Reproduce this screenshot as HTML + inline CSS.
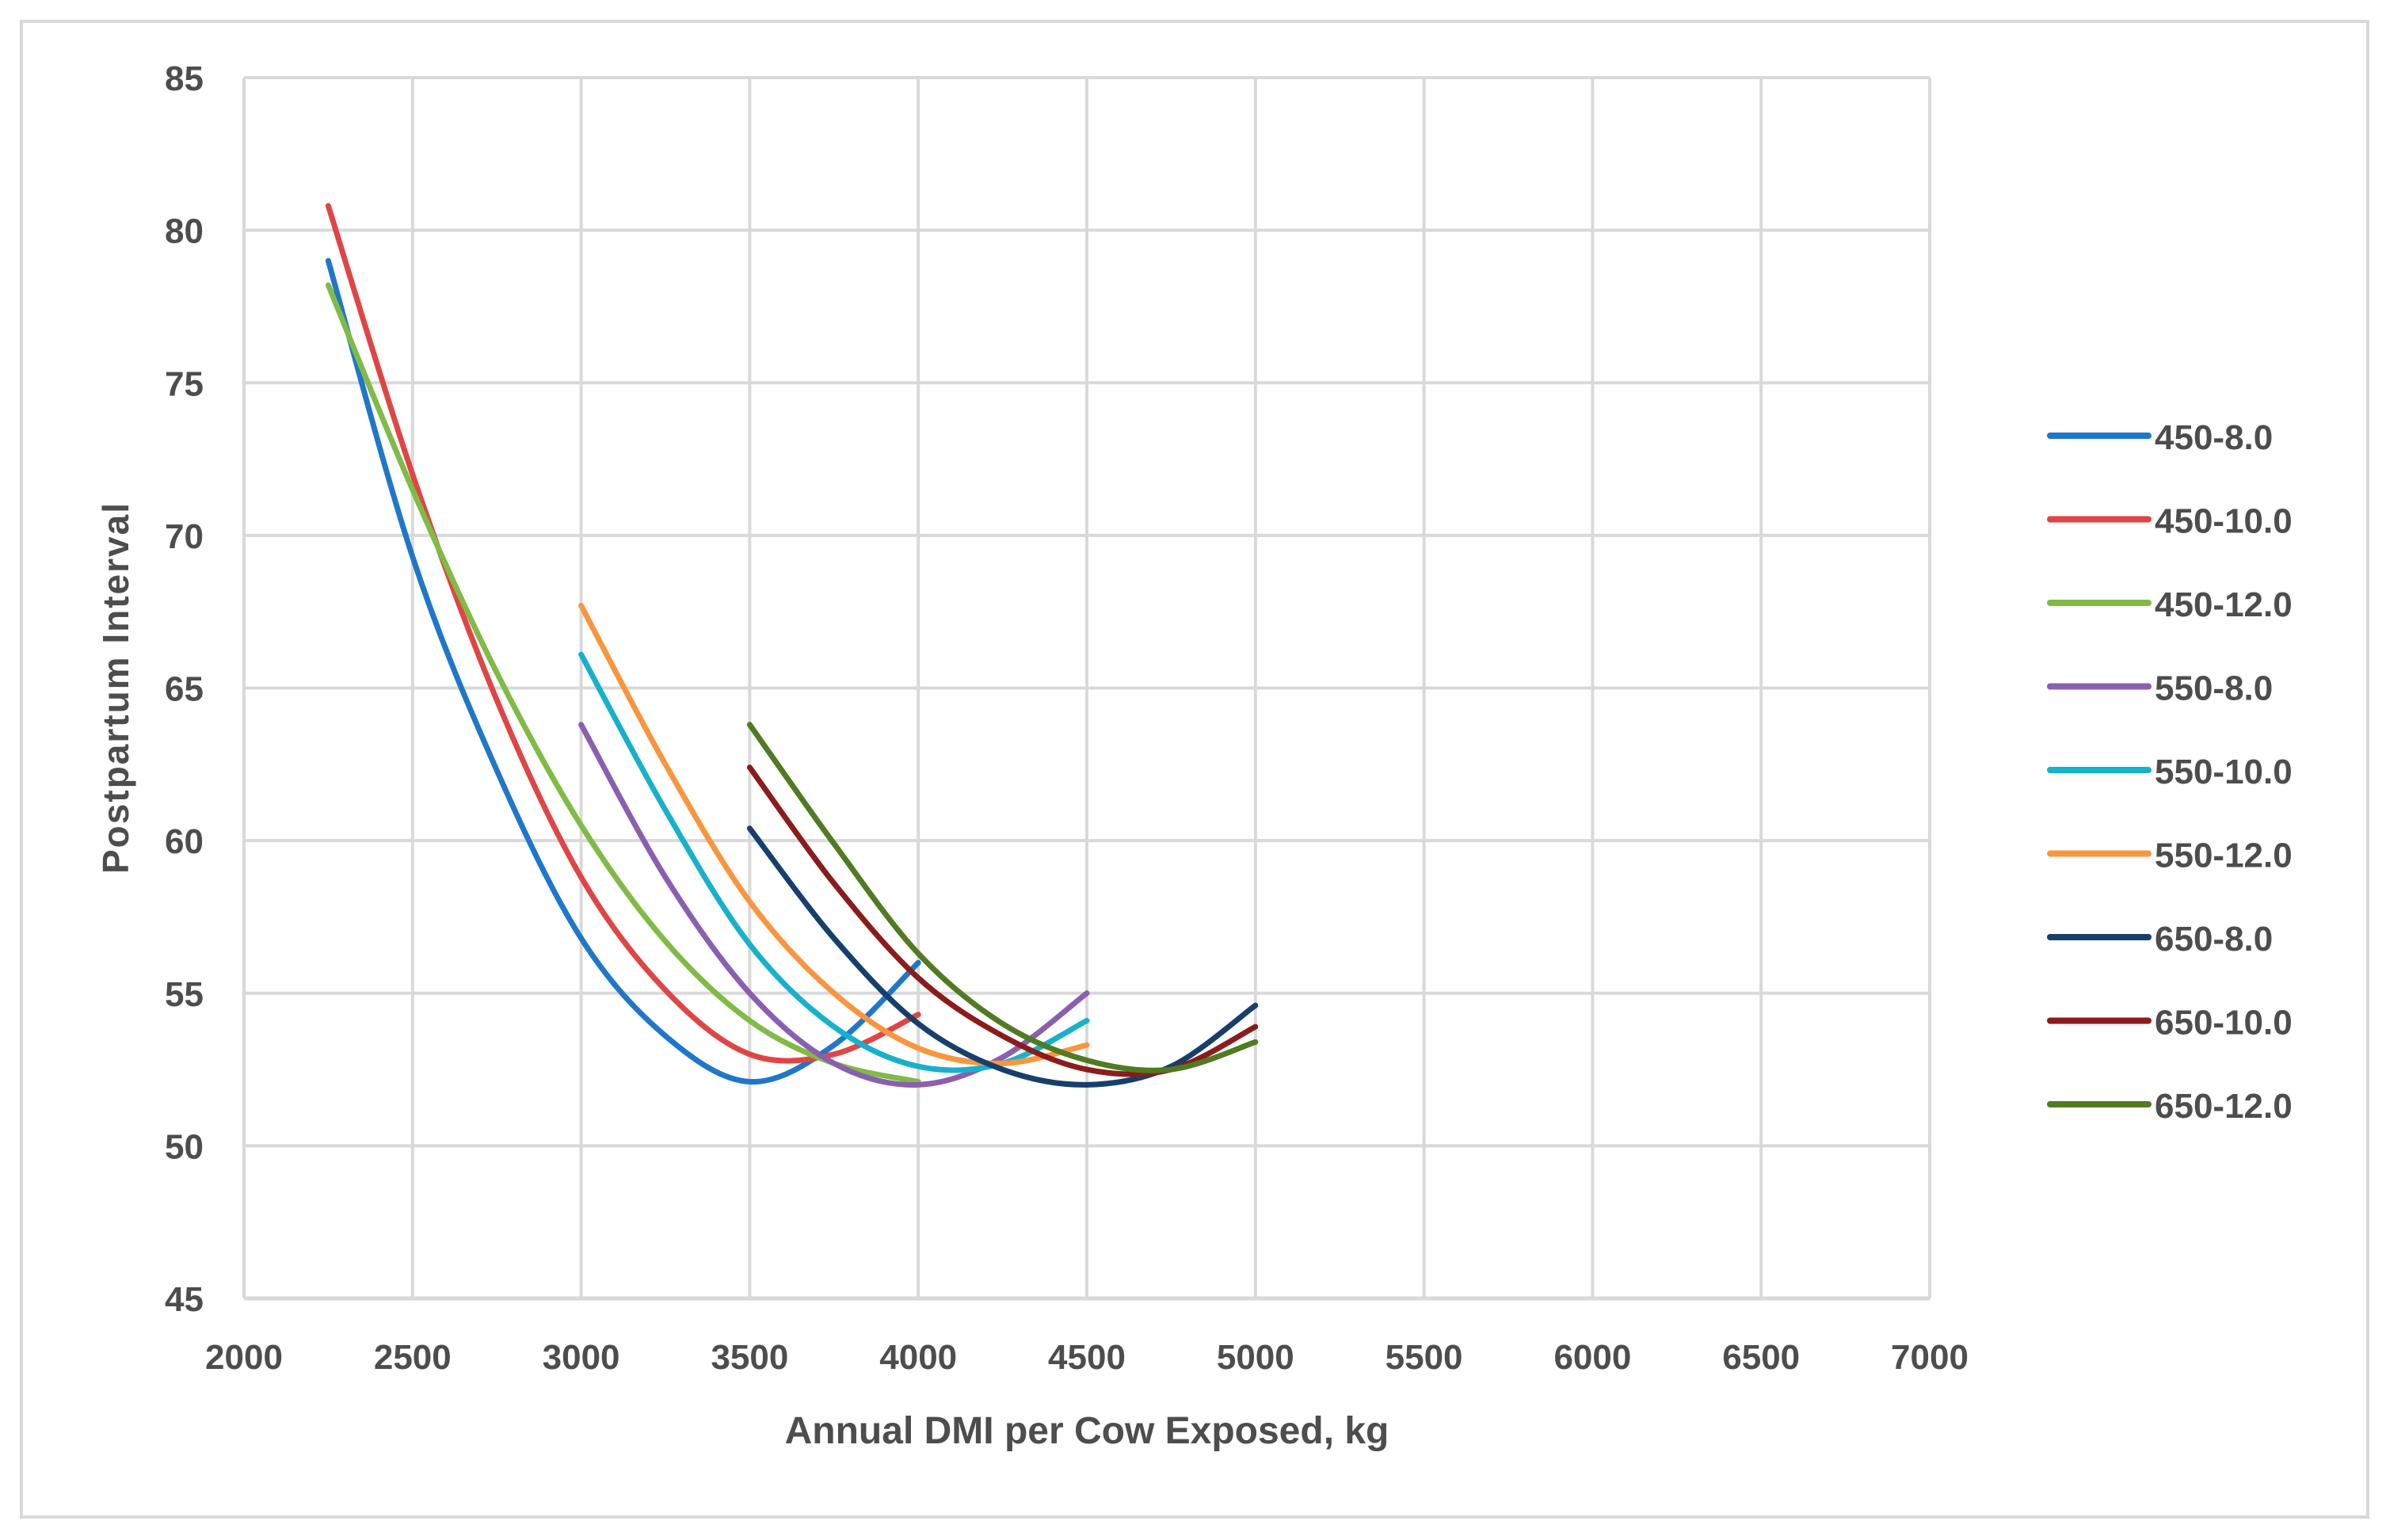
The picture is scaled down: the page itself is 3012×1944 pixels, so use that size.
<!DOCTYPE html>
<html><head><meta charset="utf-8">
<style>
html,body{margin:0;padding:0;background:#fff;}
svg{display:block;}
text{font-family:"Liberation Sans",sans-serif;fill:#4d4d4d;font-weight:bold;}
</style></head>
<body>
<svg id="chart" width="3012" height="1944" xmlns="http://www.w3.org/2000/svg">
<rect x="27" y="27" width="2962" height="1888" fill="#fff" stroke="#d9d9d9" stroke-width="4"/>
<g id="grid"></g>
<g id="yticks"></g>
<g id="xticks"></g>
<g id="series"></g>
<g id="legend"></g>
<text x="1372" y="1822" font-size="48" text-anchor="middle">Annual DMI per Cow Exposed, kg</text>
<text transform="translate(162,868) rotate(-90)" font-size="46" text-anchor="middle" letter-spacing="2">Postpartum Interval</text>
</svg>
<script>
const xTicks = [2000,2500,3000,3500,4000,4500,5000,5500,6000,6500,7000];
const yTicks = [45,50,55,60,65,70,75,80,85];
const seriesNames = ["450-8.0","450-10.0","450-12.0","550-8.0","550-10.0","550-12.0","650-8.0","650-10.0","650-12.0"];
const seriesColors = ["#1f77c9","#e04545","#80bb45","#8a5fb0","#18b1cc","#f89640","#173f6c","#8b1c1c","#4f7b22"];
const x450 = [2250,2500,2750,3000,3250,3500,3750,4000];
const x550 = [3000,3250,3500,3750,4000,4250,4500];
const x650 = [3500,3750,4000,4250,4500,4750,5000];
const y450_8 = [79.0,69.3,62.3,56.8,53.6,52.1,53.3,56.0];
const y450_10 = [80.8,72.0,64.6,58.8,55.1,53.0,53.0,54.3];
const y450_12 = [78.2,71.5,65.5,60.5,56.7,54.1,52.7,52.1];
const y550_8 = [63.8,58.8,55.0,52.7,52.0,52.9,55.0];
const y550_10 = [66.1,61.0,56.6,53.9,52.6,52.7,54.1];
const y550_12 = [67.7,62.5,58.0,55.0,53.2,52.7,53.3];
const y650_8 = [60.4,56.8,54.0,52.5,52.0,52.6,54.6];
const y650_10 = [62.4,58.6,55.5,53.6,52.5,52.5,53.9];
const y650_12 = [63.8,59.9,56.3,54.0,52.8,52.5,53.4];
const seriesX = [x450,x450,x450,x550,x550,x550,x650,x650,x650];
const seriesY = [y450_8,y450_10,y450_12,y550_8,y550_10,y550_12,y650_8,y650_10,y650_12];

const L=308,R=2436,T=98,B=1639;
const xScale = v => L + (v-2000)/(7000-2000)*(R-L);
const yScale = v => B - (v-45)/(85-45)*(B-T);
const NS="http://www.w3.org/2000/svg";
function mk(tag, attrs, parent){const e=document.createElementNS(NS,tag);for(const k in attrs)e.setAttribute(k,attrs[k]);parent.appendChild(e);return e;}
const grid=document.getElementById('grid'), yt=document.getElementById('yticks'), xt=document.getElementById('xticks');
yTicks.forEach(v=>{
  const ln=mk('line',{x1:L,x2:R,y1:yScale(v),y2:yScale(v),stroke:'#d9d9d9','stroke-width':v===45?5:4},grid);
  
  
  const t=mk('text',{x:257,y:yScale(v)+16,'font-size':44,'text-anchor':'end'},yt);
  t.textContent=v;
  
  
});
xTicks.forEach(v=>{
  const ln=mk('line',{x1:xScale(v),x2:xScale(v),y1:T,y2:B,stroke:'#d9d9d9','stroke-width':4},grid);
  
  
  const t=mk('text',{x:xScale(v),y:1728,'font-size':44,'text-anchor':'middle'},xt);
  t.textContent=v;
  
  
});
function smooth(pts){
  let d=`M${pts[0][0]},${pts[0][1]}`;
  for(let i=0;i<pts.length-1;i++){
    const p0=pts[i-1]||pts[i],p1=pts[i],p2=pts[i+1],p3=pts[i+2]||pts[i+1];
    const c1=[p1[0]+(p2[0]-p0[0])/6,p1[1]+(p2[1]-p0[1])/6];
    const c2=[p2[0]-(p3[0]-p1[0])/6,p2[1]-(p3[1]-p1[1])/6];
    d+=` C${c1[0]},${c1[1]} ${c2[0]},${c2[1]} ${p2[0]},${p2[1]}`;
  }
  return d;
}
const sg=document.getElementById('series'), lg=document.getElementById('legend');
seriesNames.forEach((n,i)=>{
  const pts=seriesX[i].map((x,j)=>[xScale(x),yScale(seriesY[i][j])]);
  const p=mk('path',{d:smooth(pts),fill:'none',stroke:seriesColors[i],'stroke-width':7,'stroke-linecap':'round'},sg);
  
  
  const ly=550+i*105.5;
  const g=mk('g',{},lg);
  
  
  mk('line',{x1:2588,x2:2712,y1:ly,y2:ly,stroke:seriesColors[i],'stroke-width':8,'stroke-linecap':'round'},g);
  const t=mk('text',{x:2720,y:ly+17,'font-size':44},g);
  t.textContent=n;
});
</script>
</body></html>
